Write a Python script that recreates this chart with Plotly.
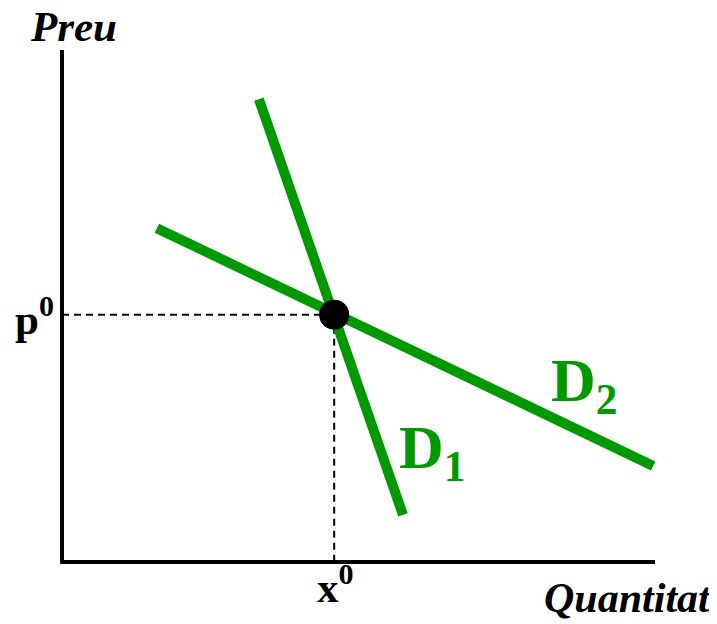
import plotly.graph_objects as go

# Data (abstract units: quantity on x, price on y)
d1_x = [3.32, 5.75]
d1_y = [9.04, 0.92]
d2_x = [1.60, 9.97]
d2_y = [6.52, 1.875]
eq_x = [4.59]
eq_y = [4.83]
axis_x_max = 10.0
axis_y_max = 10.0

GREEN = "#009900"
FONT = "Liberation Serif"

W, H = 717, 624
PAGE_OFF = 8  # default page body margin
# pixel mapping (window pixels): x_px = 62 + 59.3*x ; y_px = 562 - 51.2*y
sx, sy = 59.3, 51.2
ox, oy = 62 - PAGE_OFF, 562 - PAGE_OFF
xr = [-ox / sx, (W - ox) / sx]
yr = [-(H - oy) / sy, oy / sy]

def px(xp):
    return (xp - PAGE_OFF - ox) / sx

def py(yp):
    return (oy - (yp - PAGE_OFF)) / sy

fig = go.Figure()

dash = dict(color="black", width=2, dash="7px,5px")
fig.add_trace(go.Scatter(x=[0, eq_x[0]], y=[eq_y[0], eq_y[0]], mode="lines", line=dash, hoverinfo="skip"))
fig.add_trace(go.Scatter(x=[eq_x[0], eq_x[0]], y=[eq_y[0], 0], mode="lines", line=dash, hoverinfo="skip"))
# axes
fig.add_trace(go.Scatter(x=[0, 0], y=[axis_y_max, 0], mode="lines",
                         line=dict(color="black", width=4), hoverinfo="skip"))
fig.add_trace(go.Scatter(x=[-0.03, axis_x_max], y=[0, 0], mode="lines",
                         line=dict(color="black", width=4), hoverinfo="skip"))
# demand curves
fig.add_trace(go.Scatter(x=d1_x, y=d1_y, mode="lines",
                         line=dict(color=GREEN, width=10), hoverinfo="skip"))
fig.add_trace(go.Scatter(x=d2_x, y=d2_y, mode="lines",
                         line=dict(color=GREEN, width=10), hoverinfo="skip"))
# equilibrium point
fig.add_trace(go.Scatter(x=eq_x, y=eq_y, mode="markers",
                         marker=dict(color="black", size=30, line=dict(width=0)), hoverinfo="skip"))

annotations = [
    dict(x=px(28), y=py(26), text="<b><i>Preu</i></b>", xanchor="left", yanchor="middle",
         font=dict(family=FONT, size=43, color="black")),
    dict(x=px(713), y=py(598), text="<b><i>Quantitat</i></b>", xanchor="right", yanchor="middle",
         font=dict(family=FONT, size=42, color="black")),
    dict(x=px(56), y=py(316), text="<b>p<sup>0</sup></b>", xanchor="right", yanchor="middle",
         font=dict(family=FONT, size=43, color="black")),
    dict(x=px(335), y=py(584), text="<b>x<sup>0</sup></b>", xanchor="center", yanchor="middle",
         font=dict(family=FONT, size=43, color="black")),
    dict(x=px(397), y=py(451), text="<b>D<sub>1</sub></b>", xanchor="left", yanchor="middle",
         font=dict(family=FONT, size=62, color=GREEN)),
    dict(x=px(549), y=py(384), text="<b>D<sub>2</sub></b>", xanchor="left", yanchor="middle",
         font=dict(family=FONT, size=62, color=GREEN)),
]
for a in annotations:
    a.update(xref="x", yref="y", showarrow=False)

fig.update_layout(
    width=W, height=H,
    margin=dict(l=0, r=0, t=0, b=0),
    paper_bgcolor="white", plot_bgcolor="white",
    showlegend=False,
    xaxis=dict(range=xr, visible=False, fixedrange=True),
    yaxis=dict(range=yr, visible=False, fixedrange=True),
    annotations=annotations,
)

fig.write_html("out.html")
